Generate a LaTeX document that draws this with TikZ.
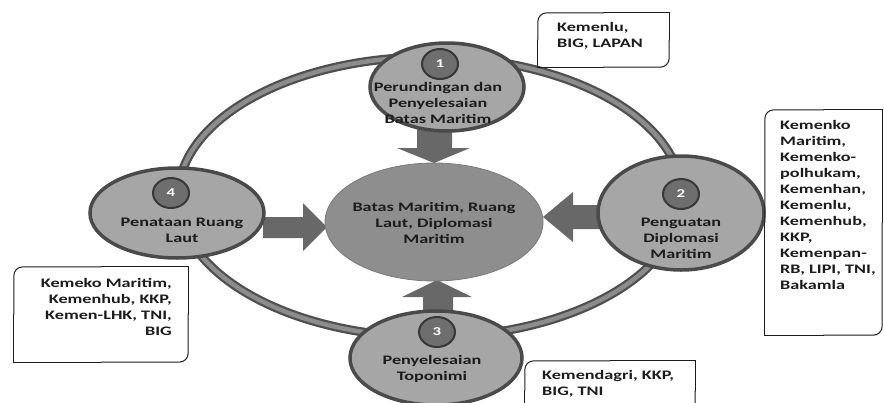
\documentclass[tikz,border=0pt]{standalone}
\usepackage{fontspec}
\usetikzlibrary{shapes.geometric}
\newfontfamily\wf[FakeStretch=1.4]{Carlito}
\definecolor{nodefill}{HTML}{A6A6A6}
\definecolor{nodeline}{HTML}{4A4A4A}
\definecolor{numfill}{HTML}{6E6E6E}
\definecolor{numline}{HTML}{383838}
\definecolor{ctrfill}{HTML}{8E8E8E}
\definecolor{arrfill}{HTML}{686868}
\definecolor{ringdark}{HTML}{4F4F4F}
\definecolor{ringlight}{HTML}{8C8C8C}
\definecolor{ink}{HTML}{1C1C1C}
\tikzset{
  stage/.style={ellipse, fill=nodefill, draw=nodeline, line width=3.5pt, inner sep=0pt},
  numb/.style={ellipse, fill=numfill, draw=numline, line width=2pt, minimum width=36pt, minimum height=30pt, inner sep=0pt, text=white, font=\wf\bfseries\fontsize{12}{14}\selectfont},
  lbl/.style={align=center, inner sep=0pt, text=ink, font=\wf\bfseries\fontsize{13}{16}\selectfont},
  boxtxt/.style={inner sep=0pt, text=ink, font=\wf\bfseries\fontsize{13}{16}\selectfont},
  boxline/.style={draw=ink, line width=1pt, line cap=round},
  blockarrow/.style={fill=arrfill},
}
\begin{document}
\begin{tikzpicture}[x=1pt,y=-1pt]
\clip (0,0) rectangle (884,402);
\fill[white] (0,0) rectangle (884,402);
% ring
\draw[ringdark, line width=9pt] (430,197) ellipse [x radius=252pt, y radius=140pt];
\draw[ringlight, line width=4.5pt] (430,197) ellipse [x radius=252pt, y radius=140pt];
% block arrows
\fill[blockarrow] (417,126) -- (452,126) -- (452,148) -- (470,148) -- (434,163) -- (397,148) -- (417,148) -- cycle;
\fill[blockarrow] (602,205) -- (573,205) -- (573,192) -- (543,217) -- (573,242) -- (573,229) -- (602,229) -- cycle;
\fill[blockarrow] (263,217) -- (303,217) -- (303,203) -- (327,227) -- (303,251) -- (303,238) -- (263,238) -- cycle;
\fill[blockarrow] (423,314) -- (423,297) -- (402,297) -- (437,280) -- (472,297) -- (453,297) -- (453,314) -- cycle;
% stage ellipses
\node[stage, minimum width=154pt, minimum height=88pt] (n1) at (447,87) {};
\node[stage, minimum width=166pt, minimum height=114pt] (n2) at (681,213) {};
\node[stage, minimum width=172pt, minimum height=94pt] (n3) at (436,358) {};
\node[stage, minimum width=174pt, minimum height=90pt] (n4) at (177,213) {};
\node[ellipse, fill=ctrfill, draw=ctrfill!85!black, line width=0.8pt, minimum width=218pt, minimum height=118pt] (ctr) at (434,222) {};
% numbers
\node[numb] (c1) at (440,64) {1};
\node[numb] (c2) at (681,194) {2};
\node[numb] (c3) at (437,332) {3};
\node[numb] (c4) at (171,193) {4};
% labels
\node[lbl] (t1) at (438,103) {Perundingan dan\\Penyelesaian\\Batas Maritim};
\node[lbl] (t2) at (681,238) {Penguatan\\Diplomasi\\Maritim};
\node[lbl] (t3) at (432,369) {Penyelesaian\\Toponimi};
\node[lbl] (t4) at (182,230) {Penataan Ruang\\Laut};
\node[lbl] (tc) at (434,223) {Batas Maritim, Ruang\\Laut, Diplomasi\\Maritim};
% box frames
\node[inner sep=0pt, minimum width=131pt, minimum height=54pt] (b1) at (603.5,40) {};
\node[inner sep=0pt, minimum width=117pt, minimum height=225pt] (b2) at (823.5,222.5) {};
\node[inner sep=0pt, minimum width=174pt, minimum height=95pt] (b4) at (101,314.5) {};
\node[inner sep=0pt, minimum width=170pt, minimum height=60pt] (b3) at (610,391) {};
\foreach \b in {b1,b2,b4,b3}{
  \draw[boxline, rounded corners=9pt] (\b.west) |- (\b.north);
  \draw[boxline] (\b.north) -| (\b.east);
  \draw[boxline, rounded corners=9pt] (\b.east) |- (\b.south);
  \draw[boxline] (\b.south) -| (\b.west);
}
% box texts
\node[boxtxt, anchor=north west, align=left] (x1) at (557,22) {Kemenlu,\\BIG, LAPAN};
\node[boxtxt, anchor=north west, align=left] (x2) at (780,120) {Kemenko\\Maritim,\\Kemenko-\\polhukam,\\Kemenhan,\\Kemenlu,\\Kemenhub,\\KKP,\\Kemenpan-\\RB, LIPI, TNI,\\Bakamla};
\node[boxtxt, anchor=north east, align=right] (x4) at (172,278) {Kemeko Maritim,\\Kemenhub, KKP,\\Kemen-LHK, TNI,\\BIG};
\node[boxtxt, anchor=north west, align=left] (x3) at (542,370) {Kemendagri, KKP,\\BIG, TNI};
\end{tikzpicture}
\end{document}
